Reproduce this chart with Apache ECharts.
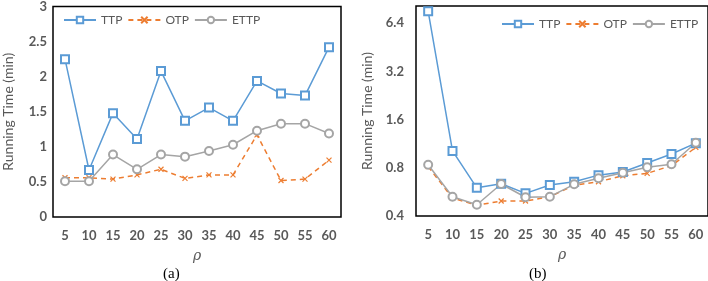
<!DOCTYPE html>
<html>
<head>
<meta charset="utf-8">
<script src="https://cdn.jsdelivr.net/npm/echarts@6/dist/echarts.min.js"></script>
<style>
html, body { margin: 0; padding: 0; background: #fff; }
#chart { width: 708px; height: 281px; }
</style>
</head>
<body>
<div id="chart"></div>
<script>
var rho = ['5', '10', '15', '20', '25', '30', '35', '40', '45', '50', '55', '60'];

// (a) linear
var ttpA = [2.25, 0.67, 1.48, 1.11, 2.08, 1.37, 1.56, 1.37, 1.94, 1.76, 1.73, 2.42];
var otpA = [0.56, 0.56, 0.54, 0.60, 0.68, 0.55, 0.60, 0.60, 1.17, 0.52, 0.54, 0.81];
var ettpA = [0.51, 0.51, 0.89, 0.68, 0.89, 0.86, 0.94, 1.03, 1.23, 1.33, 1.33, 1.19];

// (b) log scale
var ttpB = [7.6, 1.02, 0.60, 0.636, 0.554, 0.625, 0.655, 0.72, 0.753, 0.857, 0.975, 1.14];
var otpB = [0.813, 0.518, 0.467, 0.496, 0.496, 0.528, 0.622, 0.655, 0.714, 0.739, 0.825, 1.074];
var ettpB = [0.836, 0.528, 0.47, 0.634, 0.524, 0.528, 0.631, 0.688, 0.745, 0.806, 0.842, 1.147];
var logTicks = [0.4, 0.8, 1.6, 3.2, 6.4];

var blue = '#5B9BD5', orange = '#ED7D31', grey = '#A5A5A5';
var xMark = 'path://M0,0L10,10M10,0L0,10';

var myChart = echarts.init(document.getElementById('chart'));

function xAx(i) {
    return {
        type: 'category', gridIndex: i, data: rho,
        name: 'ρ', nameLocation: 'middle', nameGap: 32,
        nameTextStyle: { fontStyle: 'italic', fontSize: 14, color: '#595959', fontFamily: 'DejaVu Serif' },
        axisLine: { show: false }, axisTick: { show: false },
        axisLabel: { fontWeight: 'bold', fontSize: 13, color: '#595959', fontFamily: 'Lato', margin: 12 }
    };
}

function lineSeries(name, data, i, color, symbol, dashed) {
    return {
        name: name, type: 'line', xAxisIndex: i, yAxisIndex: i, data: data,
        symbol: symbol, symbolSize: symbol === xMark ? 5 : 8, showAllSymbol: true,
        lineStyle: { color: color, width: 1.5, type: dashed ? [5, 4] : 'solid' },
        itemStyle: { color: color, borderColor: color, borderWidth: 1.2 },
        animation: false
    };
}

var legendBase = {
    data: ['TTP', 'OTP', 'ETTP'],
    width: 240, padding: 0, itemWidth: 32, itemHeight: 8, itemGap: 5,
    textStyle: { fontSize: 12, color: '#595959', fontFamily: 'Lato' }
};

option = {
    title: [
        { text: '(a)', left: 158, top: 262, textStyle: { fontFamily: 'Liberation Serif', fontWeight: 'normal', fontSize: 15, color: '#000' } },
        { text: '(b)', left: 524, top: 262, textStyle: { fontFamily: 'Liberation Serif', fontWeight: 'normal', fontSize: 15, color: '#000' } }
    ],
    legend: [
        Object.assign({ left: 63, top: 14 }, legendBase),
        Object.assign({ left: 501, top: 18 }, legendBase)
    ],
    grid: [
        { left: 47, right: 367, top: 5, bottom: 64, show: true, borderColor: '#000', borderWidth: 1.5 },
        { left: 416, right: 0, top: 6, bottom: 65, show: true, borderColor: '#000', borderWidth: 1.5 }
    ],
    xAxis: [xAx(0), xAx(1)],
    yAxis: [
        {
            type: 'value', gridIndex: 0, min: 0, max: 3, interval: 0.5,
            name: 'Running Time (min)', nameLocation: 'middle', nameGap: 38,
            nameTextStyle: { fontSize: 14, color: '#595959', fontFamily: 'Lato' },
            splitLine: { show: false }, axisLine: { show: false }, axisTick: { show: false },
            axisLabel: { fontWeight: 'bold', fontSize: 13, color: '#595959', fontFamily: 'Lato', margin: 6 }
        },
        {
            type: 'log', logBase: 2, gridIndex: 1, min: 0.4, max: 8.2,
            name: 'Running Time (min)', nameLocation: 'middle', nameGap: 42,
            nameTextStyle: { fontSize: 14, color: '#595959', fontFamily: 'Lato' },
            splitLine: { show: false }, axisLine: { show: false }, axisTick: { show: false },
            axisLabel: {
                customValues: logTicks,
                formatter: function (v) { return (Math.round(v * 10) / 10).toFixed(1); },
                fontWeight: 'bold', fontSize: 13, color: '#595959', fontFamily: 'Lato', margin: 12
            }
        }
    ],
    series: [
        lineSeries('TTP', ttpA, 0, blue, 'emptyRect', false),
        lineSeries('OTP', otpA, 0, orange, xMark, true),
        lineSeries('ETTP', ettpA, 0, grey, 'emptyCircle', false),
        lineSeries('TTP', ttpB, 1, blue, 'emptyRect', false),
        lineSeries('OTP', otpB, 1, orange, xMark, true),
        lineSeries('ETTP', ettpB, 1, grey, 'emptyCircle', false)
    ]
};

myChart.setOption(option);
</script>
</body>
</html>
